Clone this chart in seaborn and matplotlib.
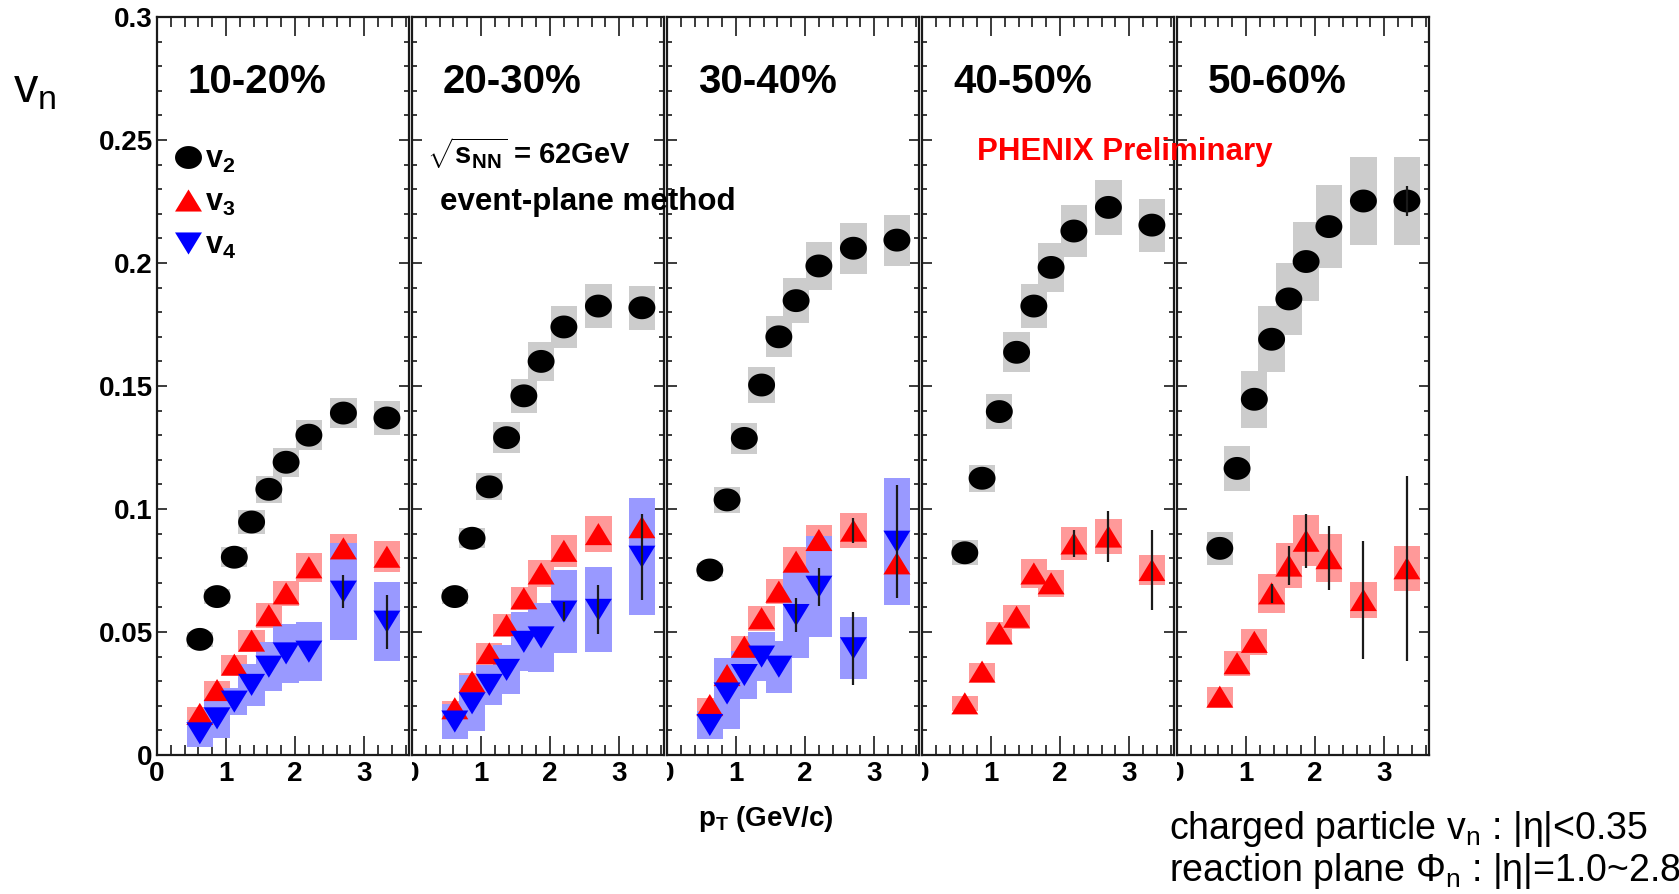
import numpy as np
import pandas as pd
import matplotlib
matplotlib.use("Agg")
import matplotlib.pyplot as plt
import seaborn as sns
from matplotlib.markers import MarkerStyle
from matplotlib.lines import Line2D
from matplotlib.ticker import MultipleLocator, FixedLocator
from matplotlib.transforms import Bbox, TransformedBbox

# ---------------- data ----------------
centralities = ["10-20%", "20-30%", "30-40%", "40-50%", "50-60%"]
pt = [0.62, 0.87, 1.12, 1.37, 1.62, 1.87, 2.2, 2.7, 3.33]

v2 = [
    [0.047, 0.0644, 0.0804, 0.0947, 0.108, 0.119, 0.130, 0.139, 0.137],
    [0.0644, 0.0881, 0.109, 0.129, 0.146, 0.160, 0.174, 0.1825, 0.1818],
    [0.0752, 0.1037, 0.1287, 0.1504, 0.170, 0.1847, 0.1988, 0.206, 0.2093],
    [0.0822, 0.1125, 0.1396, 0.1637, 0.1825, 0.1982, 0.213, 0.2226, 0.2154],
    [0.084, 0.1165, 0.1446, 0.169, 0.1854, 0.2006, 0.2148, 0.2252, 0.2252],
]
v2_sys = [
    [0.003, 0.003, 0.004, 0.0047, 0.0054, 0.006, 0.006, 0.006, 0.007],
    [0.003, 0.004, 0.0055, 0.0063, 0.007, 0.0078, 0.0086, 0.009, 0.009],
    [0.003, 0.0053, 0.0063, 0.0075, 0.0083, 0.0091, 0.0098, 0.0104, 0.0104],
    [0.005, 0.0054, 0.007, 0.0082, 0.009, 0.0098, 0.0106, 0.0113, 0.0108],
    [0.0066, 0.0092, 0.0116, 0.0135, 0.0147, 0.0159, 0.017, 0.018, 0.018],
]
v2_stat = [
    [0, 0, 0, 0, 0, 0, 0, 0, 0],
    [0, 0, 0, 0, 0, 0, 0, 0, 0],
    [0, 0, 0, 0, 0, 0, 0, 0, 0],
    [0, 0, 0, 0, 0, 0, 0, 0, 0],
    [0, 0, 0, 0, 0, 0, 0, 0, 0.006],
]
v3 = [
    [0.0167, 0.0264, 0.0367, 0.0465, 0.0568, 0.0657, 0.0763, 0.084, 0.0806],
    [0.019, 0.0298, 0.0413, 0.0528, 0.0637, 0.0738, 0.083, 0.0898, 0.0926],
    [0.0203, 0.0325, 0.044, 0.0556, 0.0664, 0.0786, 0.0874, 0.0912, 0.0779],
    [0.021, 0.0339, 0.0495, 0.0562, 0.0738, 0.0698, 0.086, 0.0888, 0.0752],
    [0.0237, 0.0373, 0.046, 0.0657, 0.077, 0.0871, 0.080, 0.063, 0.0759],
]
v3_sys = [
    [0.003, 0.0035, 0.004, 0.0045, 0.005, 0.005, 0.006, 0.006, 0.0062],
    [0.003, 0.0037, 0.0044, 0.0047, 0.0047, 0.0054, 0.0066, 0.0072, 0.007],
    [0.003, 0.0037, 0.0044, 0.005, 0.005, 0.006, 0.006, 0.0072, 0.007],
    [0.003, 0.0037, 0.0046, 0.0049, 0.0058, 0.0056, 0.0068, 0.007, 0.0061],
    [0.004, 0.005, 0.0054, 0.0078, 0.0092, 0.0104, 0.0098, 0.0075, 0.0092],
]
v3_stat = [
    [0, 0, 0, 0, 0, 0, 0, 0, 0],
    [0, 0, 0, 0, 0, 0, 0, 0, 0],
    [0, 0, 0, 0, 0, 0, 0, 0.005, 0],
    [0, 0, 0, 0, 0, 0, 0.0054, 0.0104, 0.0164],
    [0, 0, 0, 0.004, 0.0079, 0.011, 0.013, 0.024, 0.0377],
]
v4 = [
    [0.0088, 0.0149, 0.0217, 0.0285, 0.0359, 0.0413, 0.042, 0.0664, 0.0542],
    [0.0136, 0.021, 0.0285, 0.0346, 0.046, 0.0478, 0.0583, 0.059, 0.0806],
    [0.0122, 0.025, 0.0325, 0.040, 0.0359, 0.0569, 0.0684, 0.0434, 0.0867],
    None,
    None,
]
v4_sys = [
    [0.0056, 0.008, 0.0055, 0.0085, 0.01, 0.012, 0.012, 0.0197, 0.016],
    [0.0071, 0.0114, 0.008, 0.01, 0.012, 0.0139, 0.017, 0.0173, 0.0237],
    [0.0058, 0.0146, 0.0098, 0.0098, 0.0105, 0.0173, 0.0205, 0.0127, 0.0257],
    None,
    None,
]
v4_stat = [
    [0, 0, 0, 0, 0, 0, 0, 0.0068, 0.011],
    [0, 0, 0, 0, 0, 0, 0.004, 0.010, 0.0175],
    [0, 0, 0, 0, 0, 0.0068, 0.0078, 0.0149, 0.023],
    None,
    None,
]
legend_labels = ["v$_\\mathbf{2}$", "v$_\\mathbf{3}$", "v$_\\mathbf{4}$"]
xtick_vals = [0, 1, 2, 3]
xtick_labels = ["0", "1", "2", "3"]
ytick_vals = [0, 0.05, 0.1, 0.15, 0.2, 0.25, 0.3]
ytick_labels = ["0", "0.05", "0.1", "0.15", "0.2", "0.25", "0.3"]

# ---------------- style ----------------
sns.set_theme(style="ticks")
plt.rcParams["font.family"] = ["Liberation Sans", "DejaVu Sans"]
plt.rcParams["mathtext.fontset"] = "custom"
plt.rcParams["mathtext.rm"] = "Liberation Sans"
plt.rcParams["mathtext.bf"] = "Liberation Sans:bold"
plt.rcParams["mathtext.it"] = "Liberation Sans:italic"
plt.rcParams["mathtext.sf"] = "Liberation Sans"
plt.rcParams["text.color"] = "black"
plt.rcParams["axes.labelcolor"] = "black"
plt.rcParams["xtick.color"] = "black"
plt.rcParams["ytick.color"] = "black"

BLACK = "#000000"
RED = "#ff0000"
BLUE = "#0000ff"
GRAY_BOX = "#cccccc"
RED_BOX = "#ff9999"
BLUE_BOX = "#9999ff"
FRAME = "#1a1a1a"
BOX_W = 0.38

t = np.linspace(0, 2 * np.pi, 64)
ellipse = MarkerStyle(np.column_stack([np.cos(t), 0.85 * np.sin(t)]))
tri_up = MarkerStyle(np.array([[-1, -0.82], [1, -0.82], [0, 0.82], [-1, -0.82]]))
tri_dn = MarkerStyle(np.array([[-1, 0.82], [1, 0.82], [0, -0.82], [-1, 0.82]]))
MS = 19.4  # marker width in points

W, H = 1679, 894
fig = plt.figure(figsize=(W / 100, H / 100), dpi=100)
fig.patch.set_facecolor("white")


def fx(px):
    return px / W


def fy(py):
    return 1 - py / H


axes = []
for i in range(5):
    left = 157 + 255 * i
    ax = fig.add_axes([fx(left), fy(755), 252 / W, 738 / H])
    ax.patch.set_visible(False)
    axes.append(ax)

    df = pd.DataFrame({"pT": pt, "v2": v2[i], "v3": v3[i]})
    has_v4 = v4[i] is not None
    if has_v4:
        df["v4"] = v4[i]

    x = np.array(pt)
    # systematic boxes
    ax.bar(x, 2 * np.array(v2_sys[i]), bottom=np.array(v2[i]) - np.array(v2_sys[i]),
           width=BOX_W, color=GRAY_BOX, linewidth=0, zorder=1)
    ax.bar(x, 2 * np.array(v3_sys[i]), bottom=np.array(v3[i]) - np.array(v3_sys[i]),
           width=BOX_W, color=RED_BOX, linewidth=0, zorder=2)
    if has_v4:
        ax.bar(x, 2 * np.array(v4_sys[i]), bottom=np.array(v4[i]) - np.array(v4_sys[i]),
               width=BOX_W, color=BLUE_BOX, linewidth=0, zorder=3)

    # markers
    sns.scatterplot(data=df, x="pT", y="v2", marker=ellipse, s=MS ** 2, color=BLACK,
                    edgecolor="none", linewidth=0, ax=ax, zorder=4, legend=False)
    sns.scatterplot(data=df, x="pT", y="v3", marker=tri_up, s=MS ** 2, color=RED,
                    edgecolor="none", linewidth=0, ax=ax, zorder=5, legend=False)
    if has_v4:
        sns.scatterplot(data=df, x="pT", y="v4", marker=tri_dn, s=MS ** 2, color=BLUE,
                        edgecolor="none", linewidth=0, ax=ax, zorder=6, legend=False)

    # statistical error bars
    series = [(v2[i], v2_stat[i]), (v3[i], v3_stat[i])]
    if has_v4:
        series.append((v4[i], v4_stat[i]))
    for vals, errs in series:
        vals = np.array(vals)
        errs = np.array(errs)
        m = errs > 0
        if m.any():
            ax.vlines(x[m], vals[m] - errs[m], vals[m] + errs[m], colors="#1a1a1a",
                      linewidth=1.6, zorder=7)

    ax.set_xlabel("")
    ax.set_ylabel("")
    ax.set_xlim(0, 3.65)
    ax.set_ylim(0, 0.3)
    ax.xaxis.set_major_locator(FixedLocator(xtick_vals))
    ax.xaxis.set_minor_locator(MultipleLocator(0.2))
    ax.yaxis.set_major_locator(FixedLocator(ytick_vals))
    ax.yaxis.set_minor_locator(MultipleLocator(0.01))
    ax.set_xticklabels(xtick_labels, fontweight="bold")
    ax.set_yticklabels(ytick_labels, fontweight="bold")
    ax.tick_params(which="both", direction="in", top=True, right=True, color=FRAME,
                   labelcolor="black")
    ax.tick_params(axis="x", which="major", length=13.5, width=1.2, pad=4, labelsize=20)
    ax.tick_params(axis="x", which="minor", length=7, width=1.2)
    ax.tick_params(axis="y", which="major", length=7, width=1.2, pad=3, labelsize=20)
    ax.tick_params(axis="y", which="minor", length=3.6, width=1.2)
    if i > 0:
        ax.tick_params(axis="y", labelleft=False)
    for sp in ax.spines.values():
        sp.set_linewidth(1.6)
        sp.set_color(FRAME)
        sp.set_visible(True)

    ax.text(0.123, 0.912, centralities[i], transform=ax.transAxes, fontsize=29,
            fontweight="bold", ha="left", va="center", color="black")

# clip the "0" x-tick label of panels 2-5 at the panel's left edge
for i in range(1, 5):
    ax = axes[i]
    left = 157 + 255 * i
    tick0 = ax.xaxis.get_major_ticks()[0]
    clip = TransformedBbox(Bbox([[fx(left), 0], [fx(left + 252), 1]]), fig.transFigure)
    tick0.label1.set_clip_box(clip)
    tick0.label1.set_clip_on(True)

# legend in first panel
handles = [
    Line2D([], [], linestyle="none", marker=ellipse, markersize=MS, color=BLACK, markeredgewidth=0),
    Line2D([], [], linestyle="none", marker=tri_up, markersize=MS, color=RED, markeredgewidth=0),
    Line2D([], [], linestyle="none", marker=tri_dn, markersize=MS, color=BLUE, markeredgewidth=0),
]
axes[0].legend(handles, legend_labels, loc="upper left", bbox_to_anchor=(0.067, 0.827),
               frameon=False, handlelength=0.9, handletextpad=0.12, labelspacing=0.43,
               borderpad=0, borderaxespad=0, prop={"weight": "bold", "size": 22})

# annotations
fig.text(fx(427), fy(153), "$\\sqrt{\\mathbf{s}_{\\mathbf{NN}}}$ = 62GeV", fontsize=21,
         fontweight="bold", ha="left", va="center")
fig.text(fx(440), fy(202), "event-plane method", fontsize=22.5, fontweight="bold",
         ha="left", va="center")
fig.text(fx(977), fy(152), "PHENIX Preliminary", fontsize=22.5, fontweight="bold",
         color=RED, ha="left", va="center")
fig.text(fx(13), fy(90), "v$_\\mathrm{n}$", fontsize=35, ha="left", va="center")
fig.text(fx(698), fy(819), "p$_\\mathbf{T}$ (GeV/c)", fontsize=20, fontweight="bold",
         ha="left", va="center")
fig.text(fx(1169), fy(839), "charged particle v$_\\mathrm{n}$ : |η|<0.35", fontsize=27,
         ha="left", va="baseline")
fig.text(fx(1169), fy(881), "reaction plane Φ$_\\mathrm{n}$ : |η|=1.0~2.8", fontsize=27,
         ha="left", va="baseline")

fig.savefig("out.png", dpi=100, facecolor="white")
